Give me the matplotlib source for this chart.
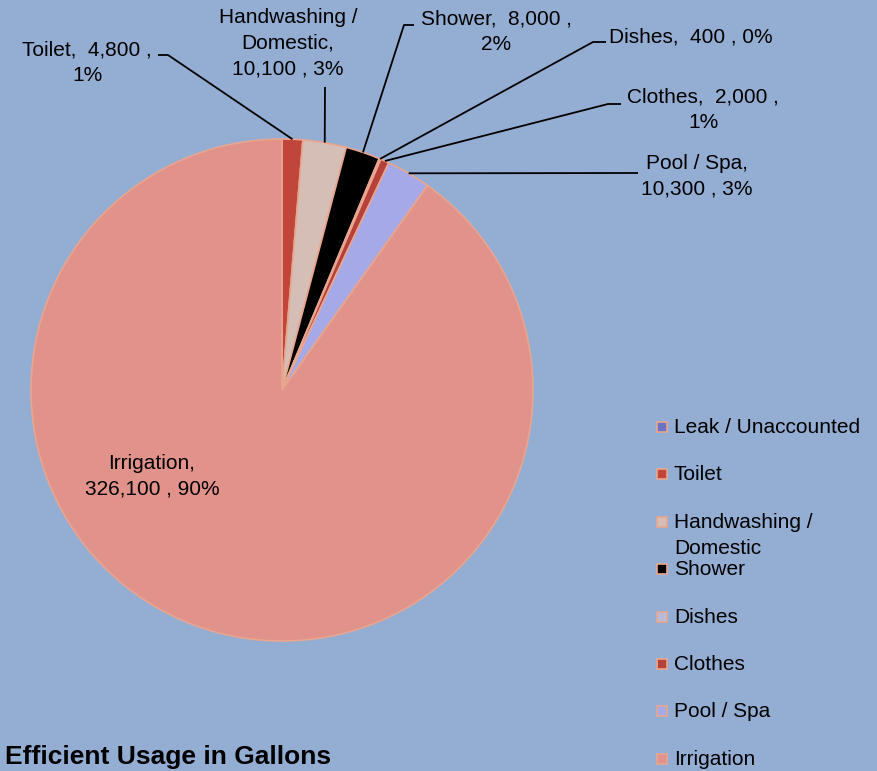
import matplotlib.pyplot as plt
import numpy as np

plt.rcParams['font.family'] = ['Liberation Sans', 'DejaVu Sans']

categories = ['Leak / Unaccounted', 'Toilet', 'Handwashing /\nDomestic', 'Shower',
              'Dishes', 'Clothes', 'Pool / Spa', 'Irrigation']
gallons = [0, 4800, 10100, 8000, 400, 2000, 10300, 326100]
pct_labels = ['0%', '1%', '3%', '2%', '0%', '1%', '3%', '90%']
colors = ['#6A73C4', '#C0453A', '#D5BEB6', '#000000',
          '#B9BBDA', '#B5423A', '#A6A9E8', '#E1928B']

bg = '#94ADD3'
edge = '#E9A68E'
W, H = 877, 771

fig = plt.figure(figsize=(W / 100, H / 100), dpi=100, facecolor=bg)
ax = fig.add_axes([0, 0, 1, 1])
ax.set_facecolor(bg)

def py(y):
    # pixel row (from top) to data y
    return H - y

cx, cy, r = 282, py(390), 251
wedges, _ = ax.pie(gallons, colors=colors, startangle=90, counterclock=False,
                   center=(cx, cy), radius=r, frame=True,
                   wedgeprops=dict(edgecolor=edge, linewidth=1.2))
ax.set_xlim(0, W)
ax.set_ylim(0, H)
ax.set_aspect('equal')
ax.axis('off')

# mid-angle anchor of each wedge on the rim
def anchor(i):
    w = wedges[i]
    a = np.deg2rad((w.theta1 + w.theta2) / 2)
    return cx + r * np.cos(a), cy + r * np.sin(a)

def fmt(v):
    return '{:,}'.format(v)

# label layout: (text x, text y, elbow points in pixel coords)
label_layout = {
    1: (87, 63, [(158, 55), (168, 55)]),
    2: (288, 43, [(325, 87)]),
    3: (496, 32, [(414, 25), (404, 25)]),
    4: (691, 37, [(606, 42), (593, 42)]),
    5: (703, 110, [(621, 104), (608, 104)]),
    6: (697, 176, [(638, 173)]),
}
label_text = {
    1: 'Toilet,  {} ,\n{}',
    2: 'Handwashing /\nDomestic,\n{} , {}',
    3: 'Shower,  {} ,\n{}',
    4: 'Dishes,  {} , {}',
    5: 'Clothes,  {} ,\n{}',
    6: 'Pool / Spa,\n{} , {}',
}
for i, (tx, ty, pts) in label_layout.items():
    ax_, ay_ = anchor(i)
    xs = [p[0] for p in pts] + [ax_]
    ys = [py(p[1]) for p in pts] + [ay_]
    ax.plot(xs, ys, color='black', lw=1.3, solid_capstyle='butt')
    ax.text(tx, py(ty), label_text[i].format(fmt(gallons[i]), pct_labels[i]),
            ha='center', va='center', multialignment='center', fontsize=15,
            linespacing=1.45)

# irrigation label inside the pie
ax.text(152, py(476), 'Irrigation,\n{} , {}'.format(fmt(gallons[7]), pct_labels[7]),
        ha='center', va='center', multialignment='center', fontsize=15, linespacing=1.45)

# legend
leg_y0, leg_dy = 427, 47.4
for i, name in enumerate(categories):
    y = leg_y0 + i * leg_dy
    ax.plot([662], [py(y)], marker='s', markersize=7, markerfacecolor=colors[i],
            markeredgecolor=edge, markeredgewidth=1.2, linestyle='none')
    ax.text(674, py(y - 9), name, ha='left', va='top', fontsize=15, linespacing=1.45)

fig.text(5 / W, 1 - 757 / H, 'Efficient Usage in Gallons', fontsize=19,
         fontweight='bold', ha='left', va='center')

fig.savefig('out.png', dpi=100, facecolor=bg)
